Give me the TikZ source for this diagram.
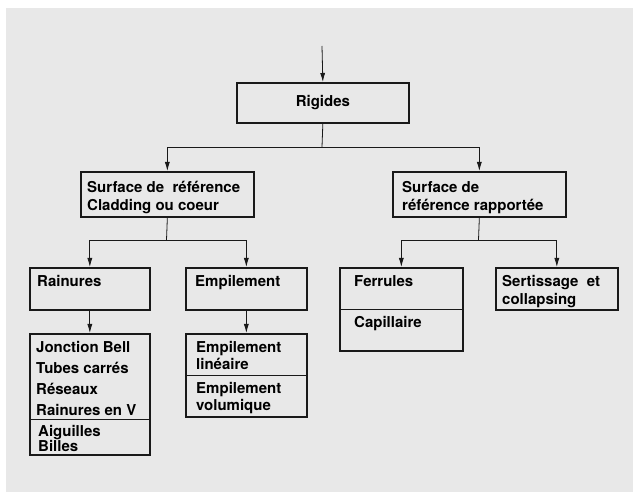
\documentclass[tikz,border=0pt]{standalone}
\usepackage{fontspec}
\setmainfont{TeX Gyre Heros}
\usepackage{tikz}
\usetikzlibrary{arrows.meta,calc}

\begin{document}
\begin{tikzpicture}[x=1pt,y=-1pt,
  kasten/.style={draw=black!90,line width=1.7pt,inner sep=0pt,anchor=north west},
  schrift/.style={inner sep=0pt,anchor=north west,align=left,font=\bfseries\fontsize{15}{18}\selectfont},
  pfeil/.style={draw=black!90,line width=0.8pt,-{Latex[length=9pt,width=5pt]}},
  linie/.style={draw=black!90,line width=0.8pt}]
  \useasboundingbox (0,0) rectangle (641,500);
  %Papier
  \fill[white] (0,0) rectangle (641,500);
  \fill[black!9] (6,8) rectangle (633,492);

  %Kaesten
  \node[kasten,minimum width=172pt,minimum height=40pt,font=\bfseries\fontsize{15}{18}\selectfont] (rig) at (236,82) {Rigides};
  \node[kasten,minimum width=173pt,minimum height=45pt] (surfA) at (80,171) {};
  \node[kasten,minimum width=173pt,minimum height=45pt] (surfB) at (392,171) {};
  \node[kasten,minimum width=120pt,minimum height=42pt] (rain) at (29,267) {};
  \node[kasten,minimum width=121pt,minimum height=42pt] (empil) at (185,267) {};
  \node[kasten,minimum width=123pt,minimum height=83pt] (ferr) at (339,267) {};
  \node[kasten,minimum width=122pt,minimum height=42pt] (sert) at (495,267) {};
  \node[kasten,minimum width=120pt,minimum height=121pt] (jonc) at (29,333) {};
  \node[kasten,minimum width=121pt,minimum height=83pt] (emlin) at (185,333) {};

  %Texte
  \node[schrift] (surfAT) at ($(surfA.north west)+(7,10)$) {Surface de\ \ référence\\Cladding ou coeur};
  \node[schrift] (surfBT) at ($(surfB.north west)+(10,10)$) {Surface de\\référence rapportée};
  \node[schrift] (rainT) at ($(rain.north west)+(8,8)$) {Rainures};
  \node[schrift] (empilT) at ($(empil.north west)+(10,8)$) {Empilement};
  \node[schrift] (ferrT) at ($(ferr.north west)+(15,8)$) {Ferrules};
  \node[schrift] (capT) at ($(ferr.north west)+(15,49)$) {Capillaire};
  \node[schrift] (sertT) at ($(sert.north west)+(7,8)$) {Sertissage\ \ et\\collapsing};
  \node[schrift,font=\bfseries\fontsize{15}{21}\selectfont] (joncT) at ($(jonc.north west)+(7,8)$) {Jonction Bell\\Tubes carrés\\Réseaux\\Rainures en V};
  \node[schrift,font=\bfseries\fontsize{15}{15}\selectfont] (aigT) at ($(jonc.north west)+(9,92)$) {Aiguilles\\Billes};
  \node[schrift,font=\bfseries\fontsize{15}{17}\selectfont] (linT) at ($(emlin.north west)+(11,8)$) {Empilement\\linéaire};
  \node[schrift,font=\bfseries\fontsize{15}{17}\selectfont] (volT) at ($(emlin.north west)+(11,49)$) {Empilement\\volumique};

  %Trennlinien
  \draw[linie] (ferr.west |- 0,309) -- (ferr.east |- 0,309);
  \draw[linie] (jonc.west |- 0,419) -- (jonc.east |- 0,419);
  \draw[linie] (emlin.west |- 0,375) -- (emlin.east |- 0,375);

  %Verbindungen
  \coordinate (ein) at (322,46);
  \coordinate (gabel1) at (322,147);
  \coordinate (gabel2) at (166.5,240);
  \coordinate (gabel3) at (478.5,240);
  \draw[pfeil] (ein) -- (rig.north);
  \draw[linie] (rig.south) -- (gabel1);
  \draw[pfeil] (gabel1) -| (surfA.north);
  \draw[pfeil] (gabel1) -| (surfB.north);
  \draw[linie] (surfA.south) -- (gabel2);
  \draw[pfeil] (gabel2) -| (rain.north);
  \draw[pfeil] (gabel2) -| (empil.north);
  \draw[linie] (surfB.south) -- (gabel3);
  \draw[pfeil] (gabel3) -| (ferr.north);
  \draw[pfeil] (gabel3) -| (sert.north);
  \draw[pfeil] (rain.south) -- (jonc.north);
  \draw[pfeil] (empil.south) -- (emlin.north);
\end{tikzpicture}
\end{document}
